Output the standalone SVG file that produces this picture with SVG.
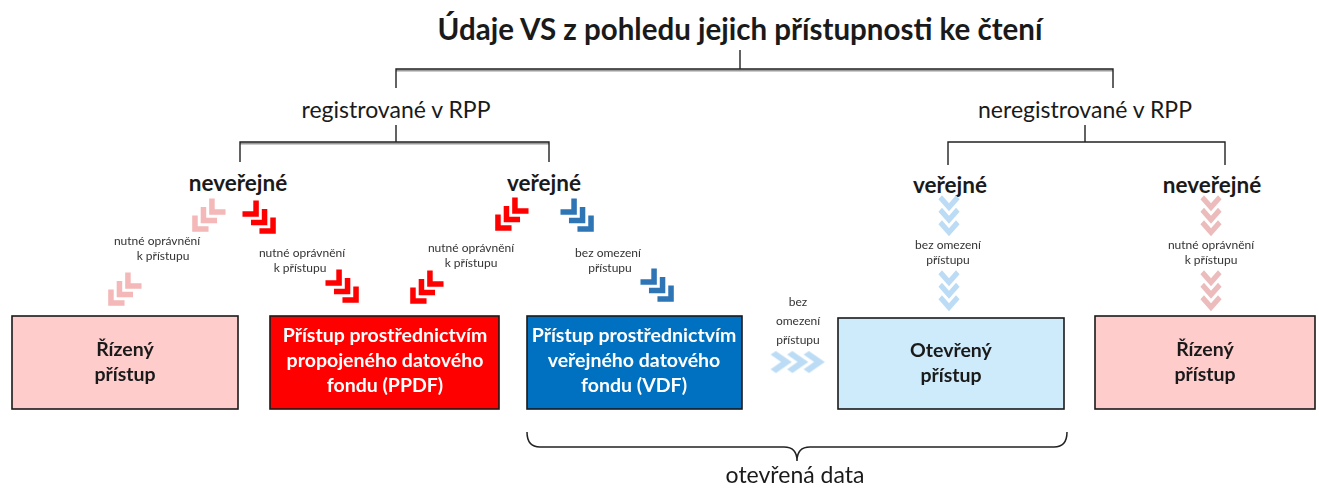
<svg xmlns="http://www.w3.org/2000/svg" xmlns:xlink="http://www.w3.org/1999/xlink" width="1319" height="489" viewBox="0 0 1319 489">
  <style>
    text { font-family: Lato, "Noto Sans", "Liberation Sans", sans-serif; fill: #1a1a1a; text-anchor: middle; }
    .title { font-size: 29.5px; font-weight: 700; }
    .lvl1 { font-size: 23px; }
    .lvl2 { font-size: 22.5px; font-weight: 700; }
    .note { font-size: 12px; fill: #333; }
    .box { stroke: #1a1a1a; stroke-width: 1.6; }
    .boxtxt { font-size: 19.5px; font-weight: 700; }
    .white { fill: #ffffff; }
    .tree { fill: none; stroke: #222; stroke-width: 1.4; }
    .shade { fill: none; stroke: #9a9a9a; stroke-width: 2.2; }
    .brace { fill: none; stroke: #222; stroke-width: 1.5; }
  </style>
  <defs>
    <!-- one chevron pointing along +x -->
    <path id="chev" d="M-5,-8 L3,0 L-5,8" fill="none" stroke="currentColor" stroke-width="4.6" stroke-linejoin="miter"/>
    <!-- three chevrons in a row -->
    <g id="chev3">
      <use xlink:href="#chev" x="-10"/>
      <use xlink:href="#chev" x="0"/>
      <use xlink:href="#chev" x="10"/>
    </g>
    <filter id="soft" x="-20%" y="-20%" width="140%" height="140%">
      <feGaussianBlur stdDeviation="0.5"/>
    </filter>
  </defs>

  <!-- title -->
  <g id="title">
    <text class="title" x="740" y="40">Údaje VS z pohledu jejich přístupnosti ke čtení</text>
  </g>

  <!-- category labels -->
  <g id="registered"><text class="lvl1" x="396" y="118">registrované v RPP</text></g>
  <g id="unregistered"><text class="lvl1" x="1085" y="118">neregistrované v RPP</text></g>
  <g id="reg-nonpublic"><text class="lvl2" x="238" y="191">neveřejné</text></g>
  <g id="reg-public"><text class="lvl2" x="544" y="191">veřejné</text></g>
  <g id="unreg-public"><text class="lvl2" x="950" y="193">veřejné</text></g>
  <g id="unreg-nonpublic"><text class="lvl2" x="1212" y="193">neveřejné</text></g>

  <!-- connectors -->
  <g id="connectors">
    <!-- tree lines -->
    <path class="shade" d="M396,70.5 H1113 M240,143.5 H549"/>
    <path class="tree" d="M740,50 V69 M396,88 V69 H1113 V88"/>
    <path class="tree" d="M396,125 V142 M240,162 V142 H549 V162"/>
    <path class="tree" d="M1085,125 V142 M948,165 V142 H1225 V165"/>

    <!-- chevron arrows -->
    <g filter="url(#soft)">
      <use xlink:href="#chev3" transform="translate(206,218) rotate(135) scale(1.2)" style="color:#f4b8b8"/>
      <use xlink:href="#chev3" transform="translate(122,292) rotate(135) scale(1.2)" style="color:#f4b8b8"/>
      <use xlink:href="#chev3" transform="translate(262,220) rotate(45) scale(1.2)" style="color:#ff0000"/>
      <use xlink:href="#chev3" transform="translate(345,289) rotate(45) scale(1.2)" style="color:#ff0000"/>
      <use xlink:href="#chev3" transform="translate(509,217) rotate(135) scale(1.2)" style="color:#ff0000"/>
      <use xlink:href="#chev3" transform="translate(424,290) rotate(135) scale(1.2)" style="color:#ff0000"/>
      <use xlink:href="#chev3" transform="translate(580,218) rotate(45) scale(1.2)" style="color:#2e75b6"/>
      <use xlink:href="#chev3" transform="translate(660,288) rotate(45) scale(1.2)" style="color:#2e75b6"/>
      <use xlink:href="#chev3" transform="translate(949,216) rotate(90) scale(1.25,1.1)" style="color:#bcdcf5"/>
      <use xlink:href="#chev3" transform="translate(949,291) rotate(90) scale(1.25,1.1)" style="color:#bcdcf5"/>
      <use xlink:href="#chev3" transform="translate(1211,216) rotate(90) scale(1.25,1.1)" style="color:#ecbcbc"/>
      <use xlink:href="#chev3" transform="translate(1211,291) rotate(90) scale(1.25,1.1)" style="color:#ecbcbc"/>
      <use xlink:href="#chev3" transform="translate(798,362) scale(1.65,1.15)" style="color:#bcdcf5"/>
    </g>

    <!-- arrow labels -->
    <text class="note"><tspan x="157" y="245">nutné oprávnění</tspan><tspan x="163" y="260">k přístupu</tspan></text>
    <text class="note"><tspan x="302" y="257">nutné oprávnění</tspan><tspan x="300" y="272">k přístupu</tspan></text>
    <text class="note"><tspan x="471" y="252">nutné oprávnění</tspan><tspan x="471" y="267">k přístupu</tspan></text>
    <text class="note"><tspan x="608" y="257">bez omezení</tspan><tspan x="610" y="272">přístupu</tspan></text>
    <text class="note"><tspan x="948" y="249">bez omezení</tspan><tspan x="948" y="264">přístupu</tspan></text>
    <text class="note"><tspan x="1211" y="249">nutné oprávnění</tspan><tspan x="1211" y="264">k přístupu</tspan></text>
    <text class="note"><tspan x="798" y="306">bez</tspan><tspan x="798" y="325">omezení</tspan><tspan x="798" y="344">přístupu</tspan></text>

    <!-- brace over the open data boxes -->
    <path class="brace" d="M527,432 Q527,447 540,447 H784 Q797,447 797,461 Q797,447 810,447 H1054 Q1067,447 1067,432"/>
  </g>

  <!-- result boxes -->
  <g id="controlled-left">
    <rect class="box" x="12" y="316" width="226" height="93" fill="#ffcccc"/>
    <text class="boxtxt"><tspan x="125" y="356">Řízený</tspan><tspan x="125" y="381">přístup</tspan></text>
  </g>
  <g id="ppdf">
    <rect class="box" x="270" y="316" width="229" height="93" fill="#ff0000"/>
    <text class="boxtxt white"><tspan x="385" y="342">Přístup prostřednictvím</tspan><tspan x="385" y="367">propojeného datového</tspan><tspan x="385" y="392">fondu (PPDF)</tspan></text>
  </g>
  <g id="vdf">
    <rect class="box" x="527" y="316" width="215" height="93" fill="#0070c0"/>
    <text class="boxtxt white"><tspan x="634" y="342">Přístup prostřednictvím</tspan><tspan x="634" y="367">veřejného datového</tspan><tspan x="634" y="392">fondu (VDF)</tspan></text>
  </g>
  <g id="open-access">
    <rect class="box" x="838" y="318" width="226" height="91" fill="#cdebfb"/>
    <text class="boxtxt"><tspan x="951" y="357">Otevřený</tspan><tspan x="951" y="382">přístup</tspan></text>
  </g>
  <g id="controlled-right">
    <rect class="box" x="1095" y="316" width="220" height="93" fill="#ffcccc"/>
    <text class="boxtxt"><tspan x="1205" y="356">Řízený</tspan><tspan x="1205" y="381">přístup</tspan></text>
  </g>

  <g id="open-data"><text class="lvl1" x="795" y="483">otevřená data</text></g>
</svg>
